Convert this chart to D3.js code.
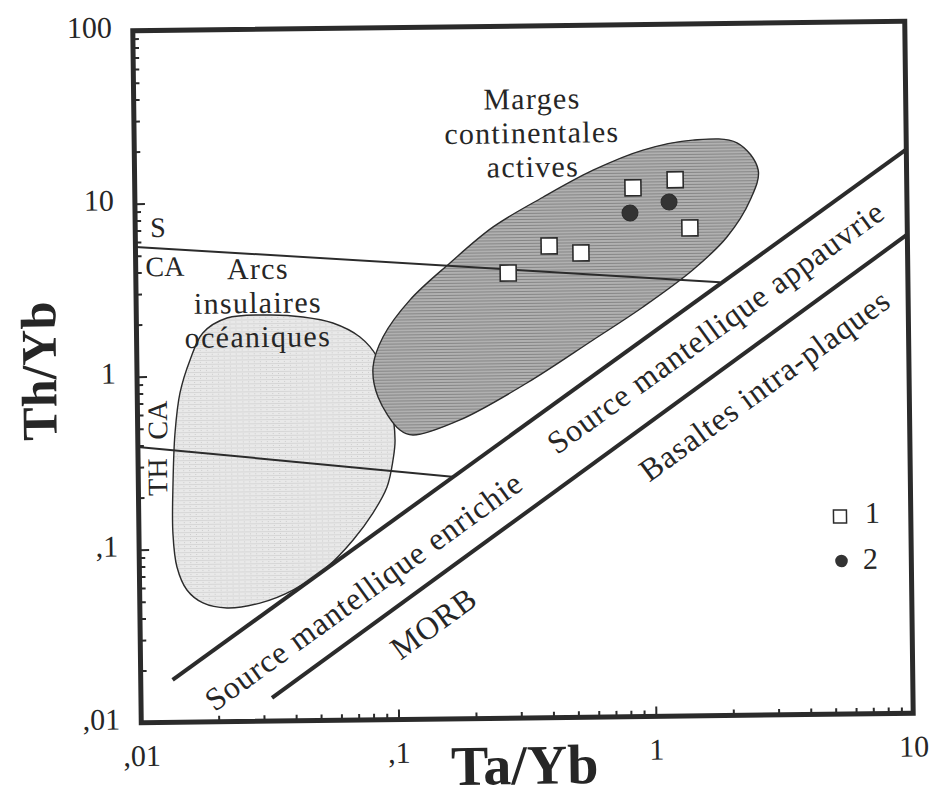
<!DOCTYPE html>
<html>
<head>
<meta charset="utf-8">
<script src="https://cdn.jsdelivr.net/npm/d3@7"></script>
<style>
  html, body { margin: 0; padding: 0; background: #fff; }
  svg { display: block; }
  text { font-family: "Liberation Serif", "DejaVu Serif", serif; fill: #262626; }
</style>
</head>
<body>
<script>
// ---------------- DATA ----------------
// tick labels (French decimal notation, as in the figure)
const xTicksMajor = [0.01, 0.1, 1, 10];
const xTickLabels = [",01", ",1", "1", "10"];
const yTicksMajor = [0.01, 0.1, 1, 10, 100];
const yTickLabels = [",01", ",1", "1", "10", "100"];

// samples group 1 (open squares): [Ta/Yb, Th/Yb]
const series1 = [[0.863, 11.4], [1.26, 12.6], [1.43, 6.62], [0.405, 5.33], [0.538, 4.83], [0.280, 3.74]];
// samples group 2 (filled circles)
const series2 = [[0.838, 8.16], [1.19, 9.38]];

// boundary lines of the mantle array and the S / CA / TH divisions
const mantleUpper = [[0.0133, 0.0176], [10, 18.2]];
const mantleLower = [[0.0323, 0.0136], [10, 5.86]];
const lineSCA = [[0.01, 5.63], [1.86, 3.2]];
const lineCATH = [[0.01, 0.393], [0.170, 0.250]];

// field outlines
const activeMarginField = [
  [2.65, 14.2], [2.20, 20.4], [1.48, 21.3], [0.948, 18.8], [0.605, 14.5], [0.385, 10.2],
  [0.246, 6.93], [0.1665, 4.32], [0.116, 2.66], [0.0907, 1.63], [0.0827, 1.095], [0.0862, 0.734],
  [0.1045, 0.471], [0.1173, 0.44], [0.179, 0.534], [0.327, 0.863], [0.594, 1.514], [0.932, 2.33],
  [1.46, 3.78], [1.99, 5.83], [2.46, 9.5]
];
const oceanicArcField = [
  [0.0331, 2.226], [0.0225, 2.152], [0.0181, 1.77], [0.0161, 1.239], [0.01466, 0.80], [0.01396, 0.47],
  [0.01364, 0.2416], [0.01355, 0.1243], [0.0140, 0.0789], [0.01527, 0.058], [0.0176, 0.0487],
  [0.0218, 0.0454], [0.0293, 0.0482], [0.0394, 0.057], [0.0536, 0.077], [0.0679, 0.11],
  [0.0813, 0.1568], [0.0925, 0.2214], [0.0979, 0.3167], [0.0999, 0.4133], [0.096, 0.704],
  [0.0858, 1.25], [0.0738, 1.636], [0.058, 1.98], [0.0444, 2.156]
];

// ---------------- LAYOUT ----------------
const W = 935, H = 799;
const pL = 137, pR = 909, pT = 26, pB = 718;
const cx = 523, cy = 372, skew = -0.7;   // slight scan rotation of the figure
const ink = "#2b2b2b";

const svg = d3.select("body").append("svg").attr("width", W).attr("height", H);
svg.append("rect").attr("width", W).attr("height", H).attr("fill", "#fff");

const defs = svg.append("defs");
const pd = defs.append("pattern").attr("id", "darkFill").attr("width", 4).attr("height", 3)
  .attr("patternUnits", "userSpaceOnUse");
pd.append("rect").attr("width", 4).attr("height", 3).attr("fill", "#b0b0b0");
pd.append("rect").attr("width", 4).attr("height", 1).attr("fill", "#868686");
const pl = defs.append("pattern").attr("id", "lightFill").attr("width", 6).attr("height", 4)
  .attr("patternUnits", "userSpaceOnUse");
pl.append("rect").attr("width", 6).attr("height", 4).attr("fill", "#e9e9e9");
pl.append("rect").attr("width", 6).attr("height", 1).attr("fill", "#d6d6d6");
pl.append("rect").attr("x", 2).attr("y", 2).attr("width", 1).attr("height", 1).attr("fill", "#cccccc");

const g = svg.append("g").attr("transform", `rotate(${skew},${cx},${cy})`);

// convert a position seen on the page into the (unrotated) drawing frame
function P(px, py) {
  const a = -skew * Math.PI / 180, dx = px - cx, dy = py - cy;
  return [cx + dx * Math.cos(a) - dy * Math.sin(a), cy + dx * Math.sin(a) + dy * Math.cos(a)];
}

const x = d3.scaleLog().domain([0.01, 10]).range([pL, pR]);
const y = d3.scaleLog().domain([0.01, 100]).range([pB, pT]);

const isMajor = d => Math.abs(Math.log10(d) - Math.round(Math.log10(d))) < 1e-6;

// ---------------- FIELDS ----------------
const fieldLine = d3.line().x(d => x(d[0])).y(d => y(d[1])).curve(d3.curveCatmullRomClosed.alpha(0.5));
g.append("path").attr("d", fieldLine(oceanicArcField))
  .attr("fill", "url(#lightFill)").attr("stroke", ink).attr("stroke-width", 1.4);
g.append("path").attr("d", fieldLine(activeMarginField))
  .attr("fill", "url(#darkFill)").attr("stroke", ink).attr("stroke-width", 1.4);

// ---------------- LINES ----------------
const seg = d3.line().x(d => x(d[0])).y(d => y(d[1]));
g.append("path").attr("d", seg(lineSCA)).attr("stroke", ink).attr("stroke-width", 2).attr("fill", "none");
g.append("path").attr("d", seg(lineCATH)).attr("stroke", ink).attr("stroke-width", 2).attr("fill", "none");
g.append("path").attr("d", seg(mantleUpper)).attr("stroke", ink).attr("stroke-width", 4).attr("fill", "none");
g.append("path").attr("d", seg(mantleLower)).attr("stroke", ink).attr("stroke-width", 4).attr("fill", "none");

// ---------------- AXES ----------------
const xAxis = d3.axisBottom(x).tickValues(x.ticks()).tickSize(-6).tickPadding(22)
  .tickFormat(d => isMajor(d) ? xTickLabels[Math.round(Math.log10(d)) + 2] : "");
const gx = g.append("g").attr("transform", `translate(0,${pB})`).call(xAxis);
const yAxis = d3.axisLeft(y).tickValues(y.ticks()).tickSize(-6).tickPadding(21)
  .tickFormat(d => isMajor(d) ? yTickLabels[Math.round(Math.log10(d)) + 2] : "");
const gy = g.append("g").attr("transform", `translate(${pL},0)`).call(yAxis);

[gx, gy].forEach(ax => {
  ax.select(".domain").remove();
  ax.selectAll(".tick line").attr("stroke", ink).attr("stroke-width", 2);
  ax.selectAll(".tick text").attr("font-family", "Liberation Serif").attr("font-size", 30).attr("fill", "#262626");
});
gx.selectAll(".tick line").attr("y2", d => isMajor(d) ? -10 : -6);
gy.selectAll(".tick line").attr("x2", d => isMajor(d) ? 10 : 6);
gy.selectAll(".tick text").attr("dy", "0.2em");

// frame
g.append("rect").attr("x", pL).attr("y", pT).attr("width", pR - pL).attr("height", pB - pT)
  .attr("fill", "none").attr("stroke", ink).attr("stroke-width", 5);

// ---------------- POINTS ----------------
const sq = 16;
g.selectAll(".s1").data(series1).enter().append("rect")
  .attr("x", d => x(d[0]) - sq / 2).attr("y", d => y(d[1]) - sq / 2)
  .attr("width", sq).attr("height", sq)
  .attr("fill", "#fff").attr("stroke", ink).attr("stroke-width", 1.6);
g.selectAll(".s2").data(series2).enter().append("circle")
  .attr("cx", d => x(d[0])).attr("cy", d => y(d[1])).attr("r", 8)
  .attr("fill", "#333").attr("stroke", ink).attr("stroke-width", 1);

// ---------------- TEXT ----------------
function label(txt, px, py, size, opts = {}) {
  const [ux, uy] = P(px, py);
  const t = g.append("text").attr("x", ux).attr("y", uy).attr("font-size", size)
    .attr("text-anchor", opts.anchor || "middle").text(txt);
  if (opts.bold) t.attr("font-weight", "bold");
  if (opts.ls) t.attr("letter-spacing", opts.ls);
  if (opts.angle !== undefined) t.attr("transform", `rotate(${opts.angle},${ux},${uy})`);
  return t;
}
const fs = 30, sp = { ls: 1.3 };
label("Marges", 532, 109, fs, sp);
label("continentales", 532, 143, fs, sp);
label("actives", 533, 177, fs, sp);
label("Arcs", 258, 279, fs, sp);
label("insulaires", 258, 313, fs, sp);
label("océaniques", 258, 347, fs, sp);

label("S", 158, 237, 28);
label("CA", 165, 276, 28);
label("CA", 167, 420, 28, { angle: -90 });
label("TH", 167, 477, 28, { angle: -90 });

const ang = Math.atan2(y(mantleUpper[1][1]) - y(mantleUpper[0][1]), x(mantleUpper[1][0]) - x(mantleUpper[0][0])) * 180 / Math.PI;
const ang2 = Math.atan2(y(mantleLower[1][1]) - y(mantleLower[0][1]), x(mantleLower[1][0]) - x(mantleLower[0][0])) * 180 / Math.PI;
const rs = 32;
label("Source mantellique appauvrie", 722, 336, rs, { angle: ang, ls: 0.9 });
label("Source mantellique enrichie", 370, 600, rs, { angle: ang, ls: 0.9 });
label("Basaltes intra-plaques", 771, 394, rs, { angle: ang2, ls: 0.9 });
label("MORB", 440, 632, rs, { angle: ang2, ls: 0.9 });

// axis titles
label("Th/Yb", 56, 371, 50, { bold: true, angle: -90 });
label("Ta/Yb", 525, 784, 56, { bold: true });

// ---------------- LEGEND ----------------
const [lx1, ly1] = P(840, 516.5);
g.append("rect").attr("x", lx1 - 6.5).attr("y", ly1 - 6.5).attr("width", 13).attr("height", 13)
  .attr("fill", "#fff").attr("stroke", ink).attr("stroke-width", 1.5);
label("1", 865, 523, 30, { anchor: "start" });
const [lx2, ly2] = P(841.5, 561);
g.append("circle").attr("cx", lx2).attr("cy", ly2).attr("r", 6.3).attr("fill", "#333");
label("2", 863, 569, 30, { anchor: "start" });
</script>
</body>
</html>
